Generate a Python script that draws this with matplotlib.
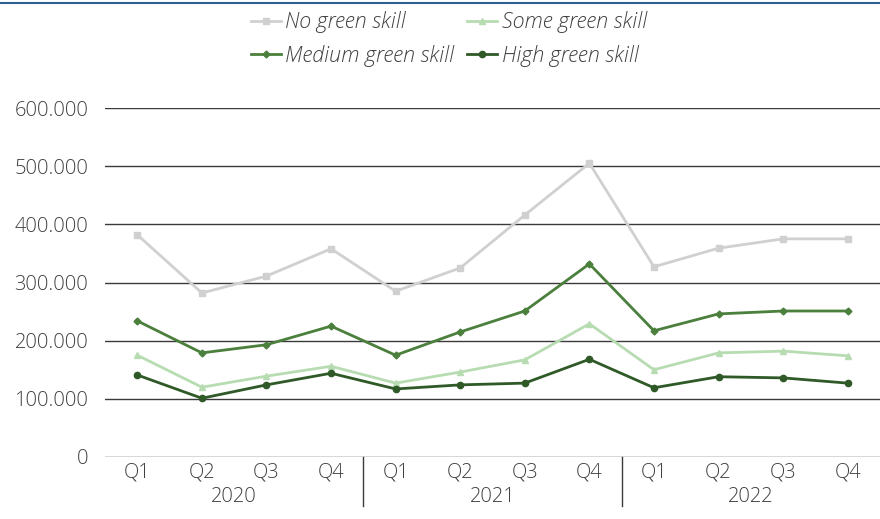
import matplotlib
matplotlib.use("Agg")
import matplotlib.pyplot as plt
import matplotlib.transforms as mtransforms
import numpy as np

quarters = ["Q1", "Q2", "Q3", "Q4"] * 3
years = ["2020", "2021", "2022"]

no_green = [382, 282, 311, 358, 285, 325, 416, 505, 327, 359, 375, 375]
some_green = [175, 120, 139, 156, 127, 146, 167, 229, 150, 179, 182, 174]
medium_green = [234, 179, 193, 225, 175, 215, 251, 332, 217, 246, 251, 251]
high_green = [141, 101, 124, 144, 117, 124, 127, 168, 119, 138, 136, 127]

series = [
    ("No green skill", no_green, "#d0d0d0", "s", 4.5),
    ("Some green skill", some_green, "#b7dcb2", "^", 5),
    ("Medium green skill", medium_green, "#4b7f3c", "D", 3.5),
    ("High green skill", high_green, "#2f5a28", "o", 4.5),
]

plt.rcParams["font.family"] = ["Open Sans", "DejaVu Sans"]
plt.rcParams["font.weight"] = "light"

fig = plt.figure(figsize=(8.8, 5.19), dpi=100)
ax = fig.add_axes([105 / 880, 62 / 519, 775 / 880, 349 / 519])

x = np.arange(len(quarters))
lines = []
for name, vals, color, marker, ms in series:
    ln, = ax.plot(x, np.array(vals) * 1000, color=color, lw=2, marker=marker,
                  ms=ms, label=name)
    lines.append(ln)

ax.set_xlim(-0.5, len(quarters) - 0.5)
ax.set_ylim(0, 600000)
ax.set_yticks(np.arange(0, 600001, 100000))
ax.set_yticklabels(["0"] + [f"{v}.000" for v in range(100, 601, 100)])
ax.set_xticks(x)
ax.set_xticklabels(quarters)
ax.grid(axis="y", color="#3a3a3a", lw=1)
ax.set_axisbelow(True)
for s in ax.spines.values():
    s.set_visible(False)
ax.tick_params(axis="both", length=0, labelsize=14.5, colors="#404040")
ax.tick_params(axis="y", pad=12)
ax.tick_params(axis="x", pad=4)

# year labels and separators below the axis
trans = mtransforms.blended_transform_factory(ax.transData, ax.transAxes)
for i, yr in enumerate(years):
    ax.text(i * 4 + 1.5, -0.115, yr, transform=trans, ha="center", va="center",
            fontsize=14.5, color="#404040")
for b in (3.5, 7.5):
    ax.plot([b, b], [0, -0.14], transform=trans, color="#3a3a3a", lw=1,
            clip_on=False)

# top border line
fig.add_artist(plt.Line2D([0, 1], [1 - 3 / 519, 1 - 3 / 519],
                          color="#2e5f8e", lw=1.5))

# legend rows: No/Some, Medium/High (matplotlib fills column-wise)
order = [0, 2, 1, 3]
leg = fig.legend([lines[i] for i in order], [series[i][0] for i in order],
                 loc="center", bbox_to_anchor=(0.51, 1 - 39 / 519), ncol=2,
                 frameon=False, prop={"style": "italic", "size": 15.5},
                 handlelength=1.4, handletextpad=0.2, columnspacing=0.6,
                 labelspacing=0.55)
for t in leg.get_texts():
    t.set_color("#404040")

fig.savefig("out.png", dpi=100)
